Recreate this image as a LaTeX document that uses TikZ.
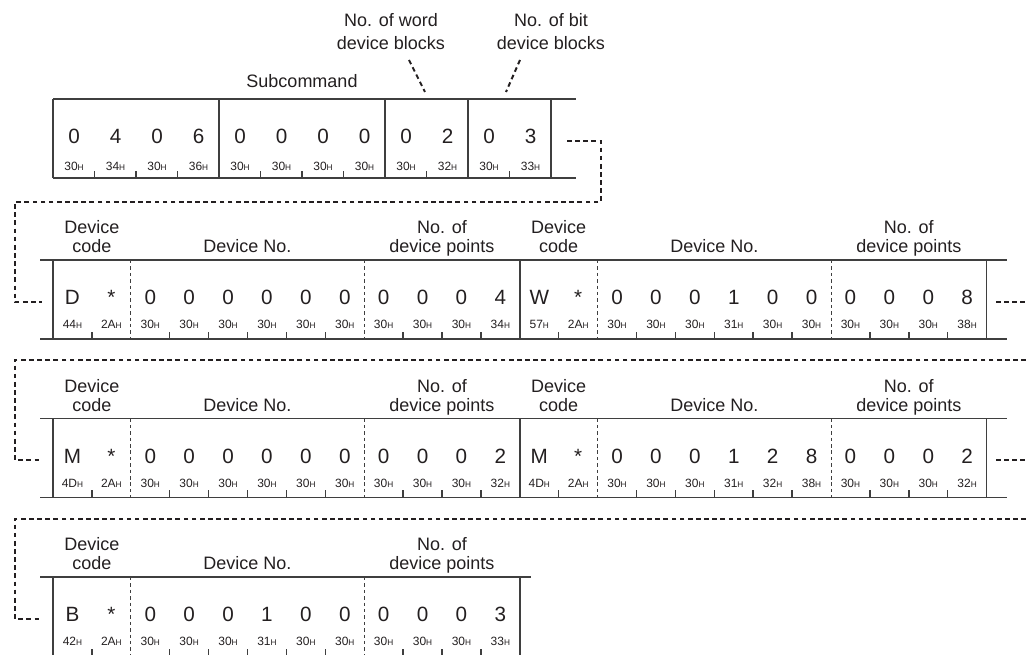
\documentclass[tikz,border=0pt]{standalone}
\usepackage{fontspec}
\setmainfont{Liberation Sans}
\usetikzlibrary{positioning}
\definecolor{inkc}{HTML}{231F20}
\definecolor{linec}{HTML}{3F3F3F}
\newcommand\hexv[1]{#1{\fontsize{6.2}{7}\selectfont H}}
% one device block: name, left x, top y, characters, hex codes
\newcommand\devblock[5]{%
  \foreach \dv [count=\i from 0] in {#4}
    \node[cellnum] (#1v\i) at ({#2+38.9*\i+19.45},{#3+45}) {\dv};
  \foreach \hv [count=\i from 0] in {#5}
    \node[cellhex] (#1h\i) at ({#2+38.9*\i+19.45},{#3+69}) {\hexv{\hv}};
  \foreach \i in {1,3,4,5,6,7,9,10,11}
    \draw[boxline] ({#2+38.9*\i},{#3+79}) -- ++(0,-7);
  \foreach \i in {2,8}
    \draw[cutline] ({#2+38.9*\i},{#3}) -- ++(0,79);
  \draw[boxline] (#2,#3) -- ++(0,79);
  \draw[boxline] ({#2+466.8},#3) -- ++(0,79);
  \node[head] (#1c1) at ({#2+38.9},{#3-26}) {Device};
  \node[head] (#1c2) at ({#2+38.9},{#3-7}) {code};
  \node[head] (#1n) at ({#2+194.5},{#3-7}) {Device No.};
  \node[head] (#1p1) at ({#2+389},{#3-26}) {No. of};
  \node[head] (#1p2) at ({#2+389},{#3-7}) {device points};
}

\begin{document}
\begin{tikzpicture}[x=0.75pt, y=-0.75pt, every node/.style={inner sep=0pt}]
  \tikzset{cellnum/.style={anchor=base, text=inkc, font=\fontsize{15.5}{18}\selectfont}}
  \tikzset{cellhex/.style={anchor=base, text=inkc, font=\fontsize{9}{10}\selectfont}}
  \tikzset{head/.style={anchor=base, text=inkc, font=\fontsize{13.5}{16}\selectfont}}
  \tikzset{boxline/.style={draw=linec, line width=1.1pt}}
  \tikzset{cutline/.style={draw=linec, line width=0.7pt, dash pattern=on 2.6pt off 2.2pt}}
  \tikzset{flowline/.style={draw=inkc, line width=1.5pt, dash pattern=on 3.5pt off 2.6pt}}
  \useasboundingbox (0,0) rectangle (1026,655);
  % command part
  \node[head] (subcmd) at (302,88) {Subcommand};
  \node[head] (wblk1) at (391,27) {No. of word};
  \node[head] (wblk2) at (391,50) {device blocks};
  \node[head] (bblk1) at (551,27) {No. of bit};
  \node[head] (bblk2) at (551,50) {device blocks};
  \coordinate (wtail) at (409,60);
  \coordinate (wtip) at (425,92);
  \coordinate (btail) at (520,60);
  \coordinate (btip) at (506,92);
  \draw[flowline] (wtail) -- (wtip);
  \draw[flowline] (btail) -- (btip);
  \draw[boxline] (53,99) -- (576,99);
  \draw[boxline] (53,178) -- (576,178);
  \foreach \x in {53,219,385,468,551} \draw[boxline] (\x,99) -- (\x,178);
  \foreach \i in {1,2,3,5,6,7,9,11} \draw[boxline] ({53+41.5*\i},178) -- ++(0,-7);
  \foreach \dv [count=\i from 0] in {0,4,0,6,0,0,0,0,0,2,0,3}
    \node[cellnum] (cv\i) at ({74+41.5*\i},144) {\dv};
  \foreach \hv [count=\i from 0] in {30,34,30,36,30,30,30,30,30,32,30,33}
    \node[cellhex] (ch\i) at ({74+41.5*\i},171) {\hexv{\hv}};
  % device blocks
  \draw[boxline] (40,260) -- (1007,260);
  \draw[boxline] (40,339) -- (1007,339);
  \devblock{da}{53}{260}{D,*,0,0,0,0,0,0,0,0,0,4}{44,2A,30,30,30,30,30,30,30,30,30,34}
  \devblock{wa}{519.8}{260}{W,*,0,0,0,1,0,0,0,0,0,8}{57,2A,30,30,30,31,30,30,30,30,30,38}
  \draw[boxline] (40,418.5) -- (1007,418.5);
  \draw[boxline] (40,497.5) -- (1007,497.5);
  \devblock{mb}{53}{418.5}{M,*,0,0,0,0,0,0,0,0,0,2}{4D,2A,30,30,30,30,30,30,30,30,30,32}
  \devblock{nb}{519.8}{418.5}{M,*,0,0,0,1,2,8,0,0,0,2}{4D,2A,30,30,30,31,32,38,30,30,30,32}
  \draw[boxline] (40,577) -- (531,577);
  \draw[boxline] (40,656) -- (531,656);
  \devblock{bc}{53}{577}{B,*,0,0,0,1,0,0,0,0,0,3}{42,2A,30,30,30,31,30,30,30,30,30,33}
  % continuation lines
  \coordinate (lk0s) at (567,141);
  \coordinate (lk0c) at (601,141);
  \coordinate (lk0m) at (15,202);
  \coordinate (lk0e) at (42,302);
  \draw[flowline] (lk0s) -- (lk0c) |- (lk0m) |- (lk0e);
  \coordinate (lk1s) at (996,302);
  \coordinate (lk1x) at (1026,302);
  \coordinate (lk1r) at (1026,360);
  \coordinate (lk1m) at (15,360);
  \coordinate (lk1e) at (42,460);
  \draw[flowline] (lk1s) -- (lk1x);
  \draw[flowline] (lk1r) -- (lk1m) |- (lk1e);
  \coordinate (lk2s) at (996,460);
  \coordinate (lk2x) at (1026,460);
  \coordinate (lk2r) at (1026,519);
  \coordinate (lk2m) at (15,519);
  \coordinate (lk2e) at (42,619);
  \draw[flowline] (lk2s) -- (lk2x);
  \draw[flowline] (lk2r) -- (lk2m) |- (lk2e);
\end{tikzpicture}
\end{document}
